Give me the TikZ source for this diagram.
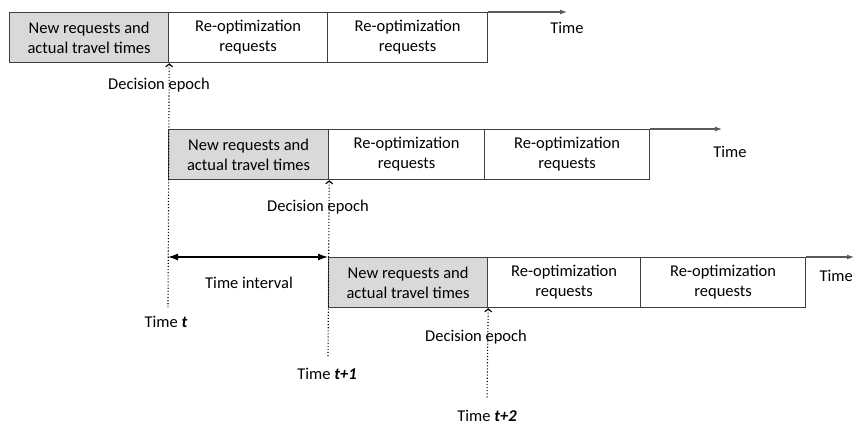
\documentclass[tikz,border=0pt]{standalone}
\usepackage{fontspec}
\setmainfont{Carlito}
\usetikzlibrary{arrows.meta}
\definecolor{boxline}{HTML}{404040}
\definecolor{axisline}{HTML}{595959}
\definecolor{boxfill}{HTML}{D9D9D9}
\begin{document}
\begin{tikzpicture}[x=1pt,y=-1pt,
  every node/.style={font=\fontsize{16.5}{20}\selectfont, inner sep=0pt},
  box/.style={draw=boxline, line width=1.2pt, align=center, anchor=north west, minimum height=50pt},
  newbox/.style={box, fill=boxfill},
  axis/.style={draw=axisline, line width=1.2pt, -{Latex[length=7pt,width=5pt]}},
  epochline/.style={draw=black, dotted, line width=1.1pt, {Straight Barb[length=3pt,width=7pt]}-},
  interval/.style={draw=black, line width=1.3pt, {Latex[length=10pt,width=7pt]}-{Latex[length=10pt,width=7pt]}},
  lbl/.style={anchor=center}]
\useasboundingbox (0,0) rectangle (854,427);
% Row 1
\node[newbox, minimum width=159pt] (a1) at (9,12) {New requests and\\actual travel times};
\node[box, minimum width=159pt] (b1) at (168,12) {Re-optimization\\requests};
\node[box, minimum width=160pt] (c1) at (327,12) {Re-optimization\\requests};
\coordinate (e1) at (567,12);
\draw[axis] (c1.north east) -- (e1);
\node[lbl] (time1) at (567,28) {Time};
\node[lbl] (de1) at (159,85) {Decision epoch};
% Row 2
\node[newbox, minimum width=160pt] (a2) at (168,129) {New requests and\\actual travel times};
\node[box, minimum width=156pt] (b2) at (328,129) {Re-optimization\\requests};
\node[box, minimum width=165pt] (c2) at (484,129) {Re-optimization\\requests};
\coordinate (e2) at (722,129);
\draw[axis] (c2.north east) -- (e2);
\node[lbl] (time2) at (730,152) {Time};
\node[lbl] (de2) at (318,207) {Decision epoch};
% Row 3
\node[newbox, minimum width=159pt] (a3) at (328,257) {New requests and\\actual travel times};
\node[box, minimum width=153pt] (b3) at (487,257) {Re-optimization\\requests};
\node[box, minimum width=165pt] (c3) at (640,257) {Re-optimization\\requests};
\coordinate (e3) at (854,257);
\draw[axis] (c3.north east) -- (e3);
\node[lbl, anchor=east] (time3) at (853,276) {Time};
\node[lbl] (de3) at (476,337) {Decision epoch};
% Epoch lines
\coordinate (t0) at (168,307);
\coordinate (t1) at (328,357);
\coordinate (t2) at (487,398);
\draw[epochline] (a1.south east) -- (t0);
\draw[epochline] (a2.south east) -- (t1);
\draw[epochline] (a3.south east) -- (t2);
\node[lbl] (lt0) at (166,322) {Time \textbf{\textit{t}}};
\node[lbl] (lt1) at (327,374) {Time \textbf{\textit{t+1}}};
\node[lbl] (lt2) at (487,416) {Time \textbf{\textit{t+2}}};
% Time interval
\coordinate (i0) at (168,257);
\draw[interval] (i0) -- (a3.north west);
\node[lbl] (ti) at (249,283) {Time interval};
\end{tikzpicture}
\end{document}
